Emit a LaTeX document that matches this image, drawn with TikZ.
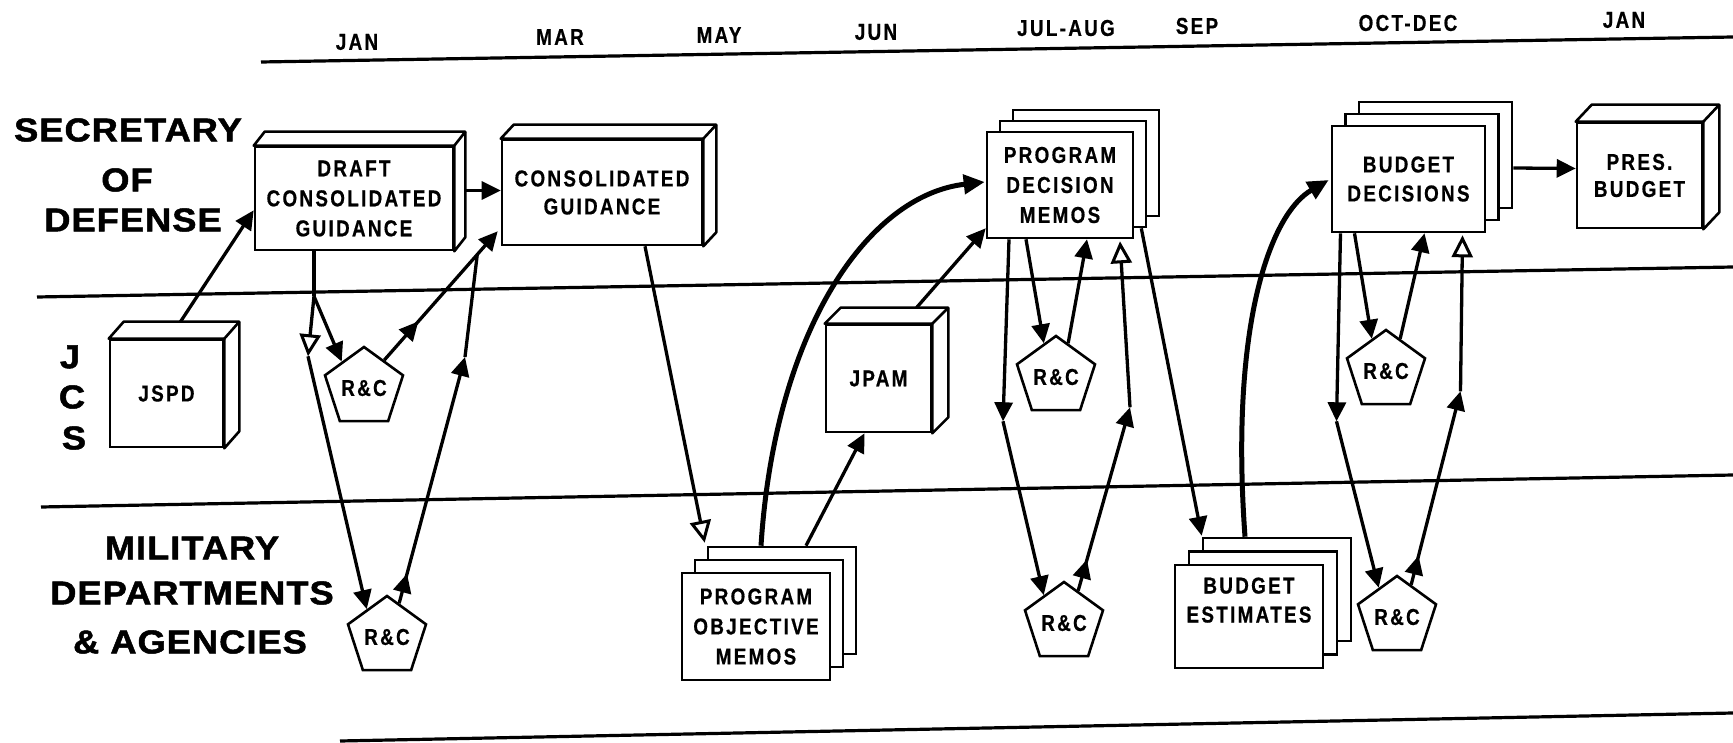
\documentclass[tikz,border=0pt]{standalone}
\usepackage{fontspec}
\setmainfont{Liberation Sans}
\newfontfamily\boxfont[FakeStretch=0.82,LetterSpace=10,FakeBold=0.6]{Liberation Sans}
\newfontfamily\lanefont[FakeStretch=1.1,LetterSpace=3,FakeBold=1.5]{Liberation Sans}
\usetikzlibrary{arrows.meta,calc,shapes.geometric,decorations.markings}
\tikzset{
 bfnt/.style={font=\boxfont\bfseries\fontsize{23}{30}\selectfont},
 bx/.style={draw, line width=2.6pt, fill=white, inner sep=0pt, align=center, bfnt},
 rc/.style={regular polygon, regular polygon sides=5, draw, line width=2.6pt, fill=white, minimum size=82pt, inner sep=0pt, bfnt},
 lab/.style={font=\lanefont\bfseries\fontsize{33}{36}\selectfont, inner sep=0pt},
 mon/.style={bfnt, inner sep=0pt},
 lane/.style={line width=3.2pt},
 con/.style={line width=3.3pt},
 thk/.style={line width=5pt},
 fa/.style={-{Triangle[length=19pt,width=18pt]}},
 fat/.style={-{Triangle[length=21pt,width=19pt]}},
 oa/.style={-{Triangle[open,length=22pt,width=21pt,line width=3pt]}},
 mfa/.style={postaction={decorate,decoration={markings,mark=at position #1 with {\arrow{Triangle[length=19pt,width=18pt]}}}}},
}
\newcommand\dthree[3]{%
 \draw[line width=2.6pt,fill=white,line join=round] (#1.north west) -- ++(#2,-#3) -- ($(#1.north east)+(#2,-#3)$) -- ($(#1.south east)+(#2,-#3)$) -- (#1.south east) -- (#1.north east) -- cycle;
 \draw[line width=2.6pt] (#1.north east) -- ++(#2,-#3);}
\begin{document}
\begin{tikzpicture}[x=1pt,y=-1pt]
\useasboundingbox (0,0) rectangle (1733,743);
% lane lines
\draw[lane] (261,62) -- (1733,37);
\draw[lane] (37,297) -- (1733,267);
\draw[lane] (41,507) -- (1733,475);
\draw[lane] (340,741) -- (1733,713);
% months
\node[mon] (mo1) at (357,42) {JAN};
\node[mon] (mo2) at (560,37) {MAR};
\node[mon] (mo3) at (719,35) {MAY};
\node[mon] (mo4) at (876,32) {JUN};
\node[mon] (mo5) at (1066,28) {JUL-AUG};
\node[mon] (mo6) at (1197,26) {SEP};
\node[mon] (mo7) at (1408,23) {OCT-DEC};
\node[mon] (mo8) at (1624,20) {JAN};
% lane labels
\node[lab] (sec1) at (128,130) {SECRETARY};
\node[lab] (sec2) at (127,180) {OF};
\node[lab] (sec3) at (133,220) {DEFENSE};
\node[lab] (jcs1) at (70,357) {J};
\node[lab] (jcs2) at (72,397) {C};
\node[lab] (jcs3) at (74,438) {S};
\node[lab] (mil1) at (192,548) {MILITARY};
\node[lab] (mil2) at (192,593) {DEPARTMENTS};
\node[lab] (mil3) at (190,642) {\& AGENCIES};
% 3D boxes
\node[bx,minimum width=198pt,minimum height=103pt] (draft) at (354,198.5) {DRAFT\\CONSOLIDATED\\GUIDANCE};
\dthree{draft}{11}{14}
\node[bx,minimum width=200pt,minimum height=105pt,font=\boxfont\bfseries\fontsize{23}{28}\selectfont] (cg) at (602,192.5) {CONSOLIDATED\\GUIDANCE};
\dthree{cg}{13}{14}
\node[bx,minimum width=113pt,minimum height=107pt] (jspd) at (166.5,393.5) {JSPD};
\dthree{jspd}{15}{17}
\node[bx,minimum width=105pt,minimum height=107pt] (jpam) at (878.5,378.5) {JPAM};
\dthree{jpam}{16}{16}
\node[bx,minimum width=125pt,minimum height=105pt,font=\boxfont\bfseries\fontsize{23}{27}\selectfont] (pres) at (1639.5,175.5) {PRES.\\BUDGET};
\dthree{pres}{16}{17}
% stacks
\node[bx,minimum width=146pt,minimum height=106pt] (pdm3) at (1086,163) {};
\node[bx,minimum width=146pt,minimum height=106pt] (pdm2) at (1073,174) {};
\node[bx,minimum width=146pt,minimum height=106pt] (pdm) at (1060,185) {PROGRAM\\DECISION\\MEMOS};
\node[bx,minimum width=153pt,minimum height=106pt] (bd3) at (1435.5,155) {};
\node[bx,minimum width=153pt,minimum height=106pt] (bd2) at (1422,167) {};
\node[bx,minimum width=153pt,minimum height=106pt,font=\boxfont\bfseries\fontsize{23}{29}\selectfont] (bd) at (1408.5,179) {BUDGET\\DECISIONS};
\node[bx,minimum width=148pt,minimum height=107pt] (pom3) at (782,600.5) {};
\node[bx,minimum width=148pt,minimum height=107pt] (pom2) at (769,613.5) {};
\node[bx,minimum width=148pt,minimum height=107pt] (pom) at (756,626.5) {PROGRAM\\OBJECTIVE\\MEMOS};
\node[bx,minimum width=148pt,minimum height=103pt] (be3) at (1277,589.5) {};
\node[bx,minimum width=148pt,minimum height=103pt] (be2) at (1263,603) {};
\node[bx,minimum width=148pt,minimum height=103pt,font=\boxfont\bfseries\fontsize{23}{29}\selectfont] (be) at (1249,616.5) {BUDGET\\ESTIMATES\\[4pt]};
% review and comment
\node[rc] (rc1) at (364,388) {R\&C};
\node[rc] (rc2) at (387,637) {R\&C};
\node[rc] (rc3) at (1056,377) {R\&C};
\node[rc] (rc4) at (1064,623) {R\&C};
\node[rc] (rc5) at (1386,371) {R\&C};
\node[rc] (rc6) at (1397,617) {R\&C};
% connectors: first cycle
\draw[con,fa] ($(jspd.north)+(14,-17)$) -- ($(draft.south west)+(0,-41)$);
\draw[con,fa] ($(draft.east)+(11,-8)$) -- ($(cg.west)+(0,-2)$);
\coordinate (dsplit) at ($(draft.south)+(-40,45)$);
\coordinate (dbend) at ($(draft.south)+(-46,105)$);
\draw[con] ($(draft.south)+(-40,0)$) -- (dsplit);
\draw[con,oa] (dsplit) -- (dbend);
\draw[con,fa] (dsplit) -- ($(rc1.corner 1)!0.55!(rc1.corner 2)$);
\draw[con,fa] (dbend) -- ($(rc2.corner 1)!0.5!(rc2.corner 2)$);
\coordinate (cgin) at ($(cg.south west)+(-3,-15)$);
\coordinate (rc1out) at ($(rc1.corner 1)!0.5!(rc1.corner 5)$);
\draw[con,fa,mfa=0.3] (rc1out) -- (cgin);
\coordinate (mbend) at (465,357);
\draw[con,fa,mfa=0.12] ($(rc2.corner 1)!0.3!(rc2.corner 5)$) -- (mbend);
\draw[con] (mbend) -- ($(rc1out)!0.82!(cgin)$);
% program cycle
\draw[con,oa] ($(cg.south)+(43,0)$) -- ($(pom3.north west)+(-2,-3)$);
\draw[thk,fat] ($(pom3.north)+(-21,0)$) .. controls +(14,-217) and +(-116,13) .. ($(pdm.west)+(-1,-3)$);
\draw[con,fa] ($(pom3.north)+(24,0)$) -- ($(jpam.south)+(-14,0)$);
\draw[con,fa] ($(jpam.north)+(38,-16)$) -- ($(pdm.south west)+(0,-11)$);
\draw[con,fa] ($(pdm.south)+(-34,0)$) -- ($(rc3.corner 1)!0.3!(rc3.corner 2)$);
\draw[con,fa] ($(rc3.corner 1)!0.3!(rc3.corner 5)$) -- ($(pdm.south)+(27,0)$);
\coordinate (pb1) at ($(pdm.south)+(-57,182)$);
\draw[con,fa] ($(pdm.south)+(-51,0)$) -- (pb1);
\draw[con,fa] (pb1) -- ($(rc4.corner 1)!0.5!(rc4.corner 2)$);
\coordinate (pb2) at ($(pdm.south)+(70,168)$);
\draw[con,fa,mfa=0.17] ($(rc4.corner 1)!0.35!(rc4.corner 5)$) -- (pb2);
\draw[con,oa] (pb2) -- ($(pdm.south)+(60,2)$);
% budget cycle
\draw[con,fa] ($(pdm2.south east)+(-6,0)$) -- ($(be3.north west)+(0,-1)$);
\draw[thk,fat] ($(be3.north)+(-32,0)$) .. controls +(-15,-208) and +(-60,35) .. ($(bd.west)+(-2,1)$);
\draw[con,fa] ($(bd.south)+(-54,0)$) -- ($(rc5.corner 1)!0.35!(rc5.corner 2)$);
\draw[con,fa] ($(rc5.corner 1)!0.35!(rc5.corner 5)$) -- ($(bd.south)+(16,0)$);
\coordinate (bb1) at ($(bd.south)+(-72,188)$);
\draw[con,fa] ($(bd.south)+(-68,0)$) -- (bb1);
\draw[con,fa] (bb1) -- ($(rc6.corner 1)!0.45!(rc6.corner 2)$);
\coordinate (bb2) at ($(bd.south)+(52,158)$);
\draw[con,fa,mfa=0.15] ($(rc6.corner 1)!0.35!(rc6.corner 5)$) -- (bb2);
\draw[con,oa] (bb2) -- ($(bd.south)+(54,2)$);
\draw[con,fa] ($(bd3.east)+(0,13)$) -- ($(pres.west)+(0,-7)$);
\end{tikzpicture}
\end{document}
